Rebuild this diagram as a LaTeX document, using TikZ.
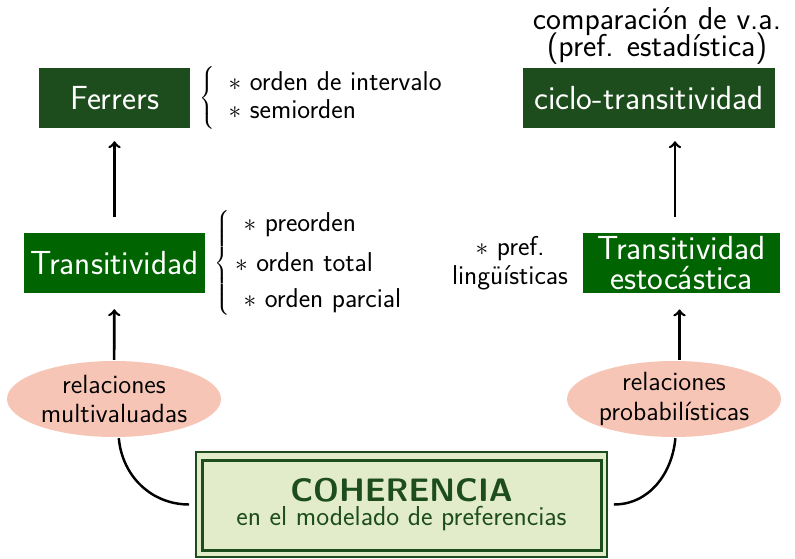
\documentclass[tikz,border=0pt]{standalone}
\renewcommand{\familydefault}{\sfdefault}
\usetikzlibrary{arrows,positioning,shapes.geometric}

\definecolor{ferrgreen}{HTML}{1D4D1D}
\definecolor{transgreen}{HTML}{006400}
\definecolor{cohfill}{HTML}{E2EBCA}
\definecolor{relfill}{HTML}{F7C5B5}

\begin{document}
\begin{tikzpicture}[>=to,line width=1.4pt,auto,node distance=2mm,
    dark/.style={fill=ferrgreen,text=white,minimum height=1.2cm,font=\fontsize{19}{17}\selectfont},
    trans/.style={fill=transgreen,text=white,minimum height=1.2cm,inner sep=2pt,align=center,font=\fontsize{19}{17}\selectfont},
    rel/.style={ellipse,fill=relfill,minimum width=4.28cm,minimum height=1.52cm,inner sep=0pt,align=center,font=\fontsize{15}{17}\selectfont},
    lista/.style={inner sep=0pt,font=\fontsize{15.5}{18}\selectfont},
    coh/.style={draw=ferrgreen,fill=cohfill,line width=1pt,minimum width=8.22cm,minimum height=2.1cm,align=center,text=ferrgreen}]

                \useasboundingbox (0,0) rectangle (15.9,11.16);

                \node[dark,minimum width=3.02cm] (ferr) at (2.29,9.2) {Ferrers};

                \node[dark,minimum width=5.04cm] (ciclo) at (12.98,9.2) {ciclo-transitividad};

                \node[trans,minimum width=3.62cm] (trans) at (2.29,5.9) {Transitividad};

                \node[trans,minimum width=3.94cm] (esto) at (13.63,5.9) {Transitividad\\estocástica};

                \node[rel] (rmulti) at (2.28,3.18) {relaciones\\multivaluadas};

                \node[rel] (rprob) at (13.48,3.18) {relaciones\\probabilísticas};

                \node[coh] (coh) at (8.03,1.07) {{\fontsize{18.5}{21}\selectfont\bfseries COHERENCIA}\\[2pt]{\fontsize{15.6}{17}\selectfont en el modelado de preferencias}};

                \draw[ferrgreen,line width=1.7pt] ([shift={(0.14,-0.18)}]coh.north west) rectangle ([shift={(-0.12,0.14)}]coh.south east);

                % textos al lado de las cajas
                \node[lista,align=center,font=\fontsize{18}{15.5}\selectfont] (comp) at (13.14,10.44) {comparación de v.a.\\[-3pt](pref. estadística)};

                \node[lista] (ferrlist) [right=1.5mm of ferr] {$\left\{\begin{tabular}{@{\ \,}l@{}} $\ast$ orden de intervalo\\[-2pt] $\ast$ semiorden\end{tabular}\right.$};

                \node[lista] (translist) [right=1.5mm of trans] {$\left\{\begin{tabular}{@{\,}l@{}} \ $\ast$ preorden\\[5pt] $\ast$ orden total\\[2pt] \ $\ast$ orden parcial\end{tabular}\right.$};

                \node[lista,align=center,font=\fontsize{15.5}{16.5}\selectfont] (ling) [left=2.5mm of esto] {$\ast$ pref.\\lingüísticas};

                \path[->,line width=1.5pt] (trans) edge[shorten <=0.3cm,shorten >=0.24cm] (ferr)

                          ([xshift=-0.13cm]esto.north) edge[shorten <=0.3cm,shorten >=0.24cm] ([xshift=-0.13cm]esto.north |- ciclo.south)

                          (rmulti) edge[shorten >=0.3cm] (trans)

                          (rprob.82) edge[shorten >=0.3cm] (rprob.82 |- esto.south);

                \draw (rmulti.-83) to[out=-85,in=180] ([xshift=-0.12cm]coh.west);

                \draw (rprob.-88) to[out=-95,in=0] ([xshift=0.12cm]coh.east);

            \end{tikzpicture}
\end{document}
